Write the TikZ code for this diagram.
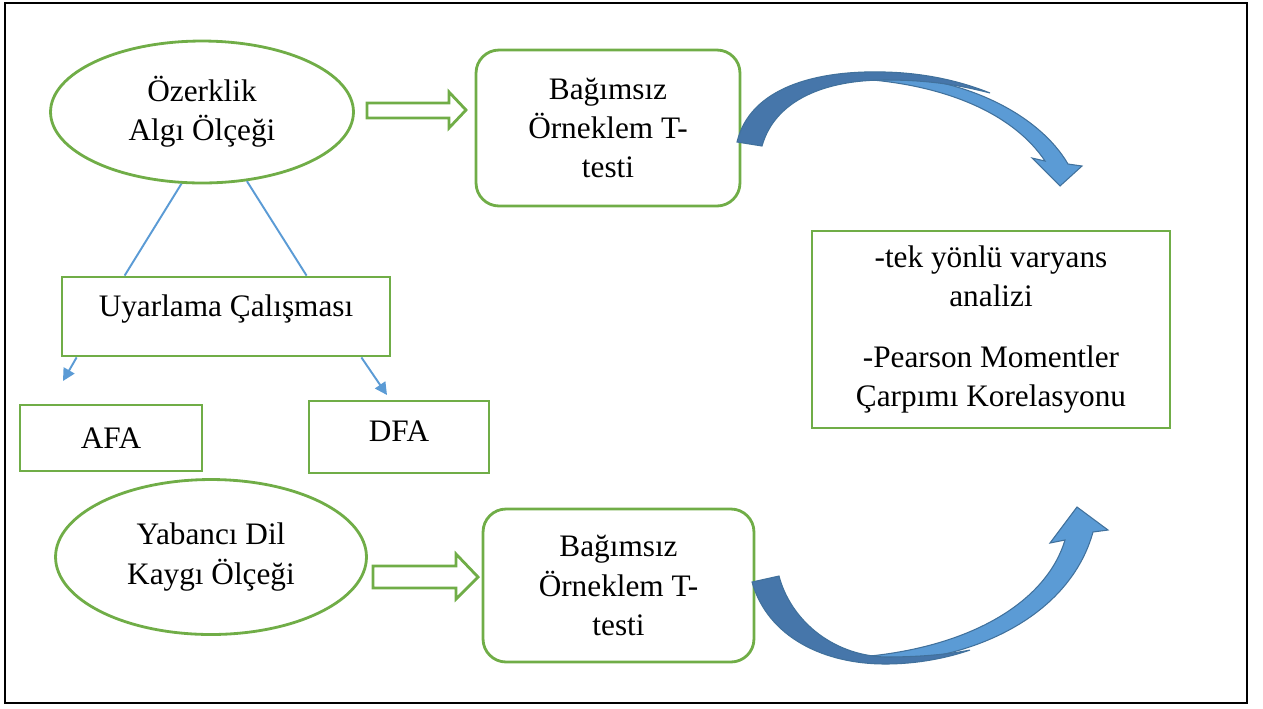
\documentclass[tikz,border=0pt]{standalone}
\usepackage{fontspec}
\setmainfont{Liberation Serif}
\usetikzlibrary{shapes.geometric, arrows.meta}
\definecolor{boxgreen}{RGB}{112,173,71}
\definecolor{lineblue}{RGB}{91,155,213}
\definecolor{darkblue}{RGB}{70,118,170}
\definecolor{edgeblue}{RGB}{65,113,156}

\begin{document}
\begin{tikzpicture}[x=0.02cm, y=-0.02cm,
    every node/.style={font=\fontsize{17.8}{22.3}\selectfont, align=center, inner sep=0pt},
    olcek/.style={draw=boxgreen, line width=1.6pt, ellipse},
    kutu/.style={draw=boxgreen, line width=1.6pt, rectangle},
    yuvarlak/.style={kutu, rounded corners=0.46cm},
    bagla/.style={draw=lineblue, line width=1.1pt},
    blok/.style={draw=boxgreen, line width=1.6pt, fill=white},
    kavis/.style={draw=edgeblue, line width=0.6pt}]
            \useasboundingbox (0,0) rectangle (1263,708);
            \draw[line width=0.6pt] (5,3) rectangle (1247,703);

            \node[olcek, minimum width=6.06cm, minimum height=2.84cm] (ozerklik) at (202,112) {Özerklik\\Algı Ölçeği};
            \node[olcek, minimum width=6.22cm, minimum height=3.1cm] (yabanci) at (211,557) {Yabancı Dil\\Kaygı Ölçeği};

            \node[yuvarlak, minimum width=5.28cm, minimum height=3.12cm] (ttest1) at (608,128) {Bağımsız\\Örneklem T-\\testi};
            \node[yuvarlak, minimum width=5.42cm, minimum height=3.06cm] (ttest2) at (618.5,585.5) {Bağımsız\\Örneklem T-\\testi};

            \node[kutu, minimum width=7.16cm, minimum height=3.94cm] (analiz) at (991,329.5) {-tek yönlü varyans\\analizi\\[12pt]-Pearson Momentler\\Çarpımı Korelasyonu};

            \node[kutu, minimum width=6.56cm, minimum height=1.58cm, text height=12pt, text depth=12pt] (uyarlama) at (226,316.5) {Uyarlama Çalışması};
            \node[kutu, minimum width=3.64cm, minimum height=1.32cm] (afa) at (111,438) {AFA};
            \node[kutu, minimum width=3.6cm, minimum height=1.44cm, text depth=7pt] (dfa) at (399,437) {DFA};

            \draw[bagla] (ozerklik.254) -- ([xshift=1.28cm]uyarlama.north west);
            \draw[bagla] (ozerklik.303) -- ([xshift=4.92cm]uyarlama.north west);

            \coordinate (afaucu) at (63,381);
            \coordinate (dfaucu) at (387,395);
            \draw[bagla, -{Triangle[length=7pt, width=7pt]}] ([xshift=0.32cm]uyarlama.south west) -- (afaucu);
            \draw[bagla, -{Triangle[length=7pt, width=7pt]}] ([xshift=-0.6cm]uyarlama.south east) -- (dfaucu);

            % ici bos blok oklar
            \draw[blok] (367,103) -- (449,103) -- (449,92) -- (466,110) -- (449,128) -- (449,118) -- (367,118) -- cycle;
            \draw[blok] (373,566) -- (456,566) -- (456,554) -- (478,577) -- (456,599) -- (456,588) -- (373,588) -- cycle;

            % ustteki kavisli ok
            \filldraw[kavis, fill=lineblue] (860,74) .. controls (965,73) and (1040,116) .. (1068,164) -- (1082,166) -- (1060,186) -- (1032,158) -- (1045,161) .. controls (1015,116) and (950,85) .. (860,79) -- cycle;
            \filldraw[kavis, fill=darkblue] (737,142) .. controls (750,88) and (815,70) .. (885,72) .. controls (925,73) and (960,81) .. (990,93) .. controls (955,84) and (925,80) .. (885,80) .. controls (825,80) and (775,100) .. (762,146) -- cycle;

            % alttaki kavisli ok
            \filldraw[kavis, fill=lineblue] (870,663) .. controls (975,662) and (1070,615) .. (1093,532) -- (1108,530) -- (1077,507) -- (1050,543) -- (1065,540) .. controls (1047,600) and (975,645) .. (870,656) -- cycle;
            \filldraw[kavis, fill=darkblue] (752,582) .. controls (768,638) and (825,664) .. (885,664) .. controls (920,664) and (950,657) .. (970,650) .. controls (945,655) and (915,657) .. (885,657) .. controls (830,655) and (790,618) .. (779,576) -- cycle;
        \end{tikzpicture}
\end{document}
